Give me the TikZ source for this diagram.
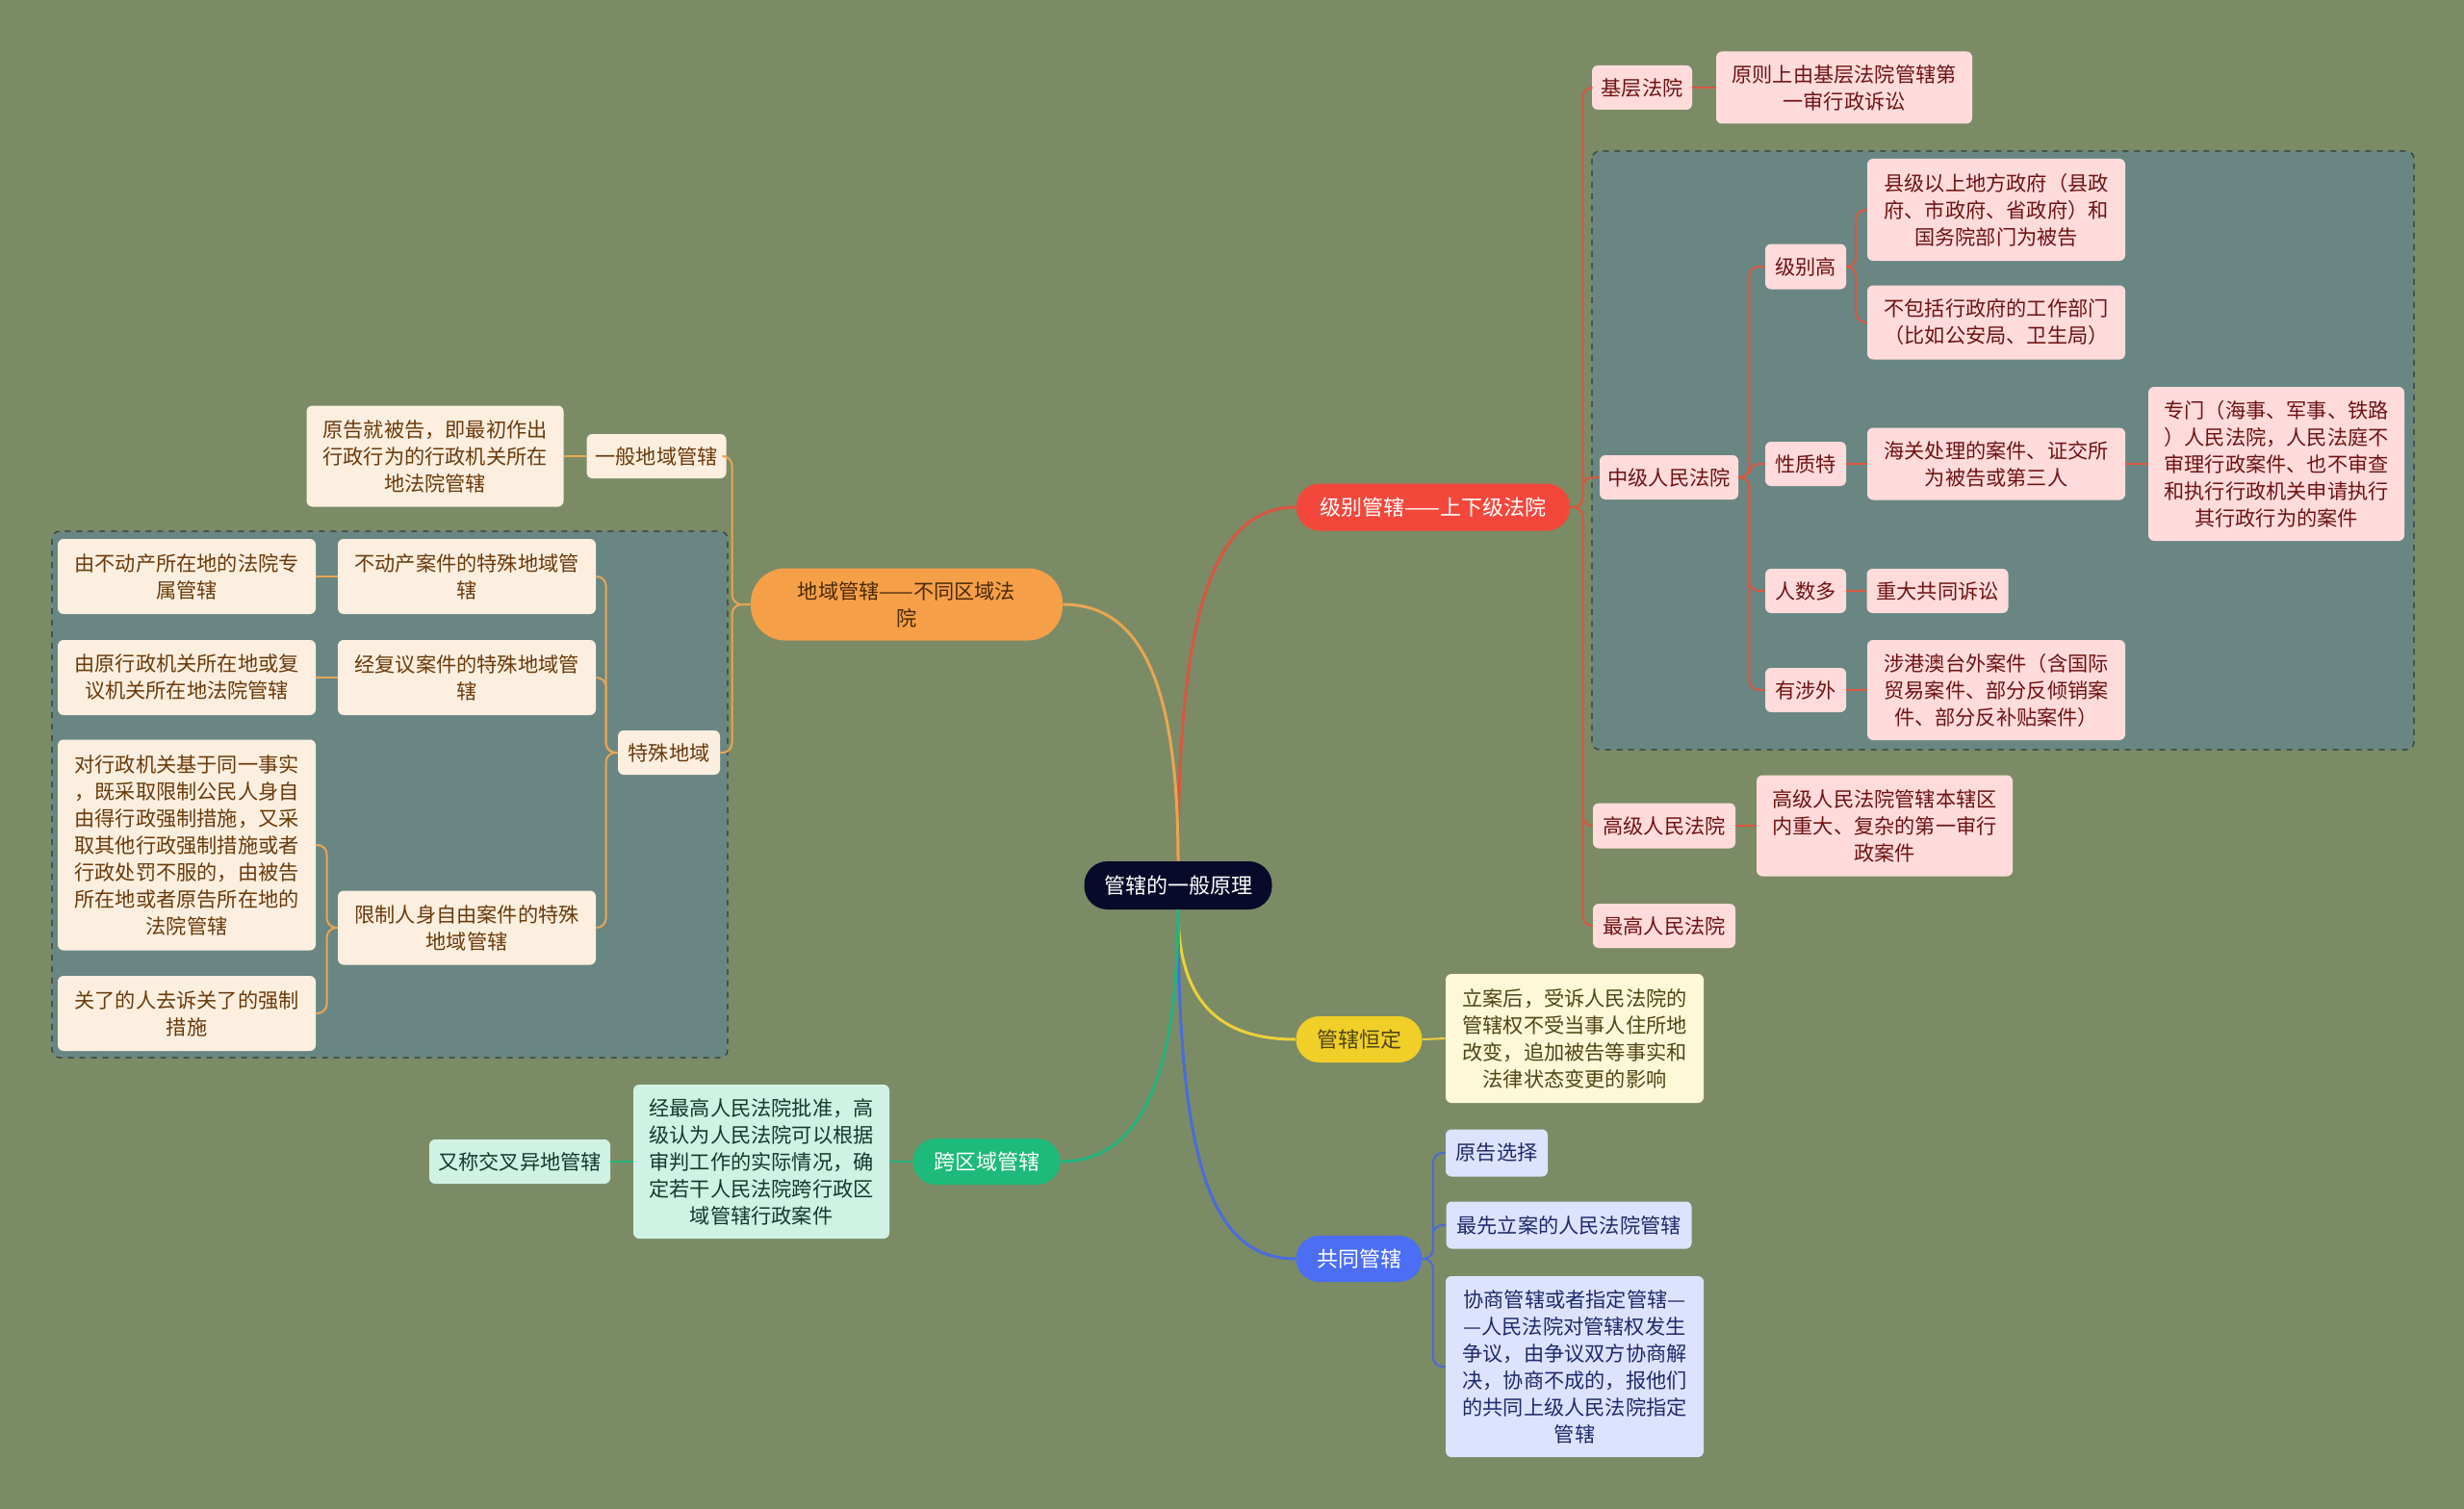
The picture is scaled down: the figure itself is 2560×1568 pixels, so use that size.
\documentclass[tikz,border=0pt]{standalone}
\usepackage{fontspec}
\setmainfont{Noto Sans CJK SC}
\definecolor{bg}{HTML}{7B8B65}
\definecolor{grp}{HTML}{698683}
\definecolor{grpline}{HTML}{2E3B38}
\definecolor{rootc}{HTML}{070A28}
\definecolor{redc}{HTML}{F4473B}
\definecolor{redl}{HTML}{D9563F}
\definecolor{pinkf}{HTML}{FFDCDB}
\definecolor{pinkt}{HTML}{6E1212}
\definecolor{orc}{HTML}{F5A048}
\definecolor{orl}{HTML}{E9A654}
\definecolor{orf}{HTML}{FDEFDF}
\definecolor{ort}{HTML}{6A3A0B}
\definecolor{yec}{HTML}{F0CF28}
\definecolor{yel}{HTML}{EDD03A}
\definecolor{yef}{HTML}{FFF8D8}
\definecolor{yet}{HTML}{4F4515}
\definecolor{blc}{HTML}{4B6EF5}
\definecolor{bll}{HTML}{4A6BDB}
\definecolor{blf}{HTML}{DDE3FE}
\definecolor{blt}{HTML}{1D2A6B}
\definecolor{grc}{HTML}{1DBA7B}
\definecolor{grl}{HTML}{22B37C}
\definecolor{grf}{HTML}{CFF2E5}
\definecolor{grt}{HTML}{133A2B}
\tikzset{
  box/.style={rounded corners=3pt, inner sep=0pt, align=center, font=\fontsize{10.6}{14}\selectfont},
  pkbox/.style={box, fill=pinkf, text=pinkt},
  orbox/.style={box, fill=orf, text=ort},
  yebox/.style={box, fill=yef, text=yet},
  blbox/.style={box, fill=blf, text=blt},
  grbox/.style={box, fill=grf, text=grt},
  pill/.style={rounded corners=12pt, inner sep=0pt, align=center, font=\fontsize{11}{14}\selectfont},
  grpbox/.style={draw=grpline, dashed, fill=grp, rounded corners=4pt, line width=0.6pt},
  mainline/.style={line width=1.5pt},
  subline/.style={line width=1pt, rounded corners=5pt},
}
\begin{document}
\begin{tikzpicture}[x=0.5pt, y=-0.5pt]
\useasboundingbox (0,0) rectangle (2560,1568);
\fill[bg] (0,0) rectangle (2560,1568);
% group boxes
\draw[grpbox] (1654,157) rectangle (2508,779);
\draw[grpbox] (54,552) rectangle (756,1099);

% root and main branches
\node[pill, fill=rootc, text=white, minimum width=97.5pt, minimum height=25pt] (root) at (1224,920) {管辖的一般原理};
\node[pill, fill=redc, text=white, minimum width=142pt, minimum height=24.5pt] (jb) at (1489,527) {级别管辖——上下级法院};
\node[pill, rounded corners=18pt, fill=orc, text=ort!70!black, minimum width=162pt, minimum height=37.5pt, font=\fontsize{10.6}{14}\selectfont] (dy) at (942,628) {地域管辖——不同区域法\\院};
\node[pill, fill=yec, text=yet, minimum width=65.5pt, minimum height=24pt] (hd) at (1412,1080) {管辖恒定};
\node[pill, fill=blc, text=white, minimum width=65.5pt, minimum height=24pt] (gt) at (1412,1308) {共同管辖};
\node[pill, fill=grc, text=white, minimum width=76.5pt, minimum height=24pt] (kq) at (1025,1207) {跨区域管辖};

% red branch
\node[pkbox, minimum width=52pt, minimum height=23pt] (jc) at (1706,91) {基层法院};
\node[pkbox, minimum width=133pt, minimum height=37.5pt] (jcT) at (1916,91) {原则上由基层法院管辖第\\一审行政诉讼};
\node[pkbox, minimum width=72pt, minimum height=23pt] (zj) at (1734,496) {中级人民法院};
\node[pkbox, minimum width=42pt, minimum height=23.5pt] (jbg) at (1876,277) {级别高};
\node[pkbox, minimum width=134pt, minimum height=53pt] (jbgA) at (2074,218) {县级以上地方政府（县政\\府、市政府、省政府）和\\国务院部门为被告};
\node[pkbox, minimum width=134pt, minimum height=38.5pt] (jbgB) at (2074,335) {不包括行政府的工作部门\\（比如公安局、卫生局）};
\node[pkbox, minimum width=42pt, minimum height=23pt] (xz) at (1876,482) {性质特};
\node[pkbox, minimum width=134pt, minimum height=37.5pt] (xzA) at (2074,482) {海关处理的案件、证交所\\为被告或第三人};
\node[pkbox, minimum width=133pt, minimum height=80pt] (xzB) at (2365,482) {专门（海事、军事、铁路\\）人民法院，人民法庭不\\审理行政案件、也不审查\\和执行行政机关申请执行\\其行政行为的案件};
\node[pkbox, minimum width=42pt, minimum height=23pt] (rs) at (1876,614) {人数多};
\node[pkbox, minimum width=73.5pt, minimum height=23pt] (rsA) at (2013,614) {重大共同诉讼};
\node[pkbox, minimum width=42pt, minimum height=23pt] (sw) at (1876,717) {有涉外};
\node[pkbox, minimum width=134pt, minimum height=52pt] (swA) at (2074,717) {涉港澳台外案件（含国际\\贸易案件、部分反倾销案\\件、部分反补贴案件）};
\node[pkbox, minimum width=74pt, minimum height=23.5pt] (gj) at (1729,858) {高级人民法院};
\node[pkbox, minimum width=133pt, minimum height=52.5pt] (gjA) at (1958,858) {高级人民法院管辖本辖区\\内重大、复杂的第一审行\\政案件};
\node[pkbox, minimum width=74pt, minimum height=23pt] (zg) at (1729,962) {最高人民法院};

% yellow branch
\node[yebox, minimum width=134pt, minimum height=67pt] (hdA) at (1636,1079) {立案后，受诉人民法院的\\管辖权不受当事人住所地\\改变，追加被告等事实和\\法律状态变更的影响};

% blue branch
\node[blbox, minimum width=53pt, minimum height=24.5pt] (gtA) at (1555,1198) {原告选择};
\node[blbox, minimum width=127.5pt, minimum height=24.5pt] (gtB) at (1630,1273) {最先立案的人民法院管辖};
\node[blbox, minimum width=134pt, minimum height=94pt] (gtC) at (1636,1420) {协商管辖或者指定管辖—\\—人民法院对管辖权发生\\争议，由争议双方协商解\\决，协商不成的，报他们\\的共同上级人民法院指定\\管辖};

% green branch
\node[grbox, minimum width=133pt, minimum height=80pt] (kqA) at (791,1207) {经最高人民法院批准，高\\级认为人民法院可以根据\\审判工作的实际情况，确\\定若干人民法院跨行政区\\域管辖行政案件};
\node[grbox, minimum width=94pt, minimum height=23pt] (kqB) at (540,1207) {又称交叉异地管辖};

% orange branch
\node[orbox, minimum width=72.5pt, minimum height=23pt] (yb) at (682,474) {一般地域管辖};
\node[orbox, minimum width=133.5pt, minimum height=52.5pt] (ybA) at (452,474) {原告就被告，即最初作出\\行政行为的行政机关所在\\地法院管辖};
\node[orbox, minimum width=53pt, minimum height=23pt] (ts) at (695,782) {特殊地域};
\node[orbox, minimum width=134pt, minimum height=39pt] (bd) at (485,599) {不动产案件的特殊地域管\\辖};
\node[orbox, minimum width=134pt, minimum height=39pt] (bdA) at (194,599) {由不动产所在地的法院专\\属管辖};
\node[orbox, minimum width=134pt, minimum height=39pt] (fy) at (485,704) {经复议案件的特殊地域管\\辖};
\node[orbox, minimum width=134pt, minimum height=39pt] (fyA) at (194,704) {由原行政机关所在地或复\\议机关所在地法院管辖};
\node[orbox, minimum width=134pt, minimum height=38.5pt] (rz) at (485,964) {限制人身自由案件的特殊\\地域管辖};
\node[orbox, minimum width=134pt, minimum height=109.5pt] (rzA) at (194,878) {对行政机关基于同一事实\\，既采取限制公民人身自\\由得行政强制措施，又采\\取其他行政强制措施或者\\行政处罚不服的，由被告\\所在地或者原告所在地的\\法院管辖};
\node[orbox, minimum width=134pt, minimum height=39pt] (rzB) at (194,1053) {关了的人去诉关了的强制\\措施};

% main connectors
\draw[mainline, redl] (root.north) .. controls +(0,-255) and +(-87,0) .. (jb.west);
\draw[mainline, orl] (root.north) .. controls +(0,-195) and +(76,0) .. (dy.east);
\draw[mainline, yel] (root.south) .. controls +(0,95) and +(-80,0) .. (hd.west);
\draw[mainline, bll] (root.south) .. controls +(0,270) and +(-85,0) .. (gt.west);
\draw[mainline, grl] (root.south) .. controls +(0,190) and +(75,0) .. (kq.east);

% red sub connectors
\foreach \c in {jc,zj,gj,zg} \draw[subline, redl] (jb.east) -- ++(13,0) |- (\c.west);
\draw[subline, redl] (jc.east) -- (jcT.west);
\foreach \c in {jbg,xz,rs,sw} \draw[subline, redl] (zj.east) -- ++(11,0) |- (\c.west);
\foreach \c in {jbgA,jbgB} \draw[subline, redl] (jbg.east) -- ++(10,0) |- (\c.west);
\draw[subline, redl] (xz.east) -- (xzA.west);
\draw[subline, redl] (xzA.east) -- (xzB.west);
\draw[subline, redl] (rs.east) -- (rsA.west);
\draw[subline, redl] (sw.east) -- (swA.west);
\draw[subline, redl] (gj.east) -- (gjA.west);

% yellow
\draw[subline, yel] (hd.east) -- (hdA.west);

% blue
\foreach \c in {gtA,gtB,gtC} \draw[subline, bll] (gt.east) -- ++(11,0) |- (\c.west);

% green
\draw[subline, grl] (kq.west) -- (kqA.east);
\draw[subline, grl] (kqA.west) -- (kqB.east);

% orange
\foreach \c in {yb,ts} \draw[subline, orl] (dy.west) -- ++(-19,0) |- (\c.east);
\draw[subline, orl] (yb.west) -- (ybA.east);
\foreach \c in {bd,fy,rz} \draw[subline, orl] (ts.west) -- ++(-12,0) |- (\c.east);
\draw[subline, orl] (bd.west) -- (bdA.east);
\draw[subline, orl] (fy.west) -- (fyA.east);
\foreach \c in {rzA,rzB} \draw[subline, orl] (rz.west) -- ++(-11,0) |- (\c.east);
\end{tikzpicture}
\end{document}
